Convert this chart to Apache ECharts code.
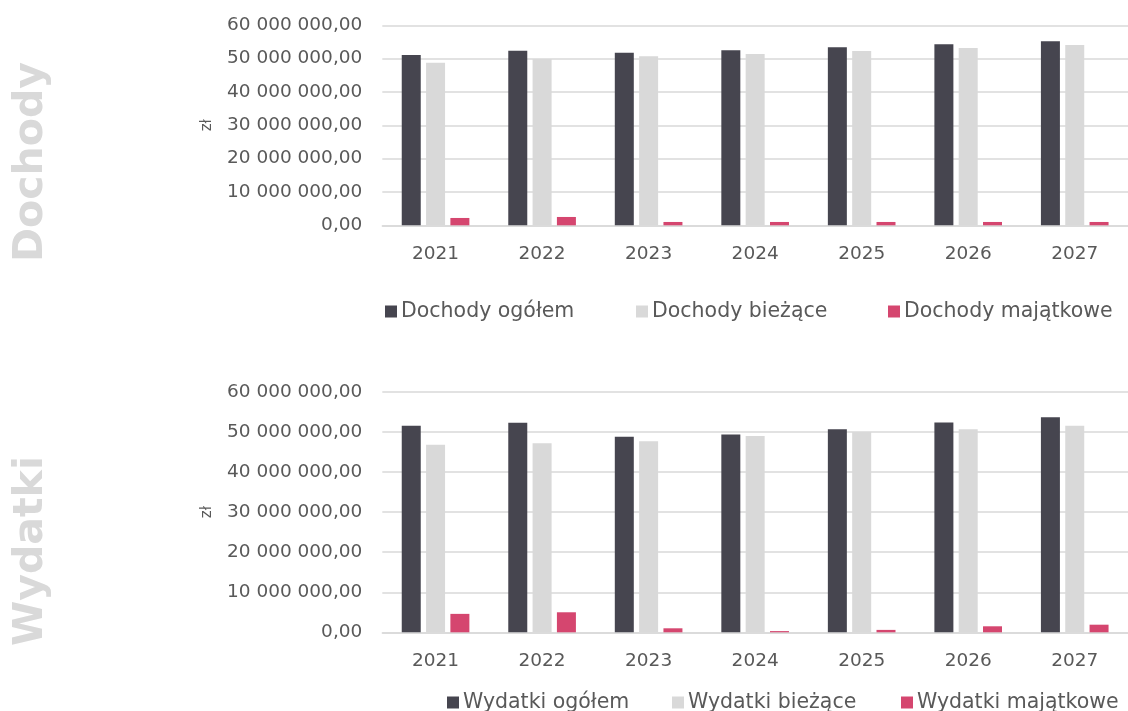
<!DOCTYPE html>
<html>
<head>
<meta charset="utf-8">
<script src="https://cdn.jsdelivr.net/npm/echarts@6/dist/echarts.min.js"></script>
<style>
html,body{margin:0;padding:0;background:#fff;}
#chart{width:1128px;height:711px;}
</style>
</head>
<body>
<div id="chart"></div>
<script>
const years = ['2021','2022','2023','2024','2025','2026','2027'];
const yTicks = [0, 10000000, 20000000, 30000000, 40000000, 50000000, 60000000];

const dochodyOgolem    = [51100000, 52400000, 51800000, 52500000, 53400000, 54300000, 55200000];
const dochodyBiezace   = [48800000, 49900000, 50700000, 51400000, 52300000, 53200000, 54100000];
const dochodyMajatkowe = [2200000, 2500000, 1000000, 1000000, 1000000, 1000000, 1000000];

const wydatkiOgolem    = [51600000, 52300000, 48800000, 49400000, 50700000, 52400000, 53700000];
const wydatkiBiezace   = [46800000, 47200000, 47700000, 49000000, 50000000, 50700000, 51600000];
const wydatkiMajatkowe = [4600000, 5000000, 1000000, 300000, 600000, 1500000, 1900000];

const seriesNames1 = ['Dochody ogółem', 'Dochody bieżące', 'Dochody majątkowe'];
const seriesNames2 = ['Wydatki ogółem', 'Wydatki bieżące', 'Wydatki majątkowe'];
const panelTitles = ['Dochody', 'Wydatki'];

const colors = ['#46454f', '#d9d9d9', '#d5466f'];
const FONT = 'DejaVu Sans';
const TXT = '#595959';

function fmt(v) {
  return String(Math.round(v)).replace(/\B(?=(\d{3})+(?!\d))/g, ' ') + ',00';
}

const chart = echarts.init(document.getElementById('chart'));

function xAxis(gridIndex) {
  return {
    type: 'category', gridIndex: gridIndex, data: years,
    axisTick: {show: false},
    axisLine: {lineStyle: {color: '#d9d9d9', width: 1.5}},
    axisLabel: {color: TXT, fontFamily: FONT, fontSize: 18.5, margin: 19}
  };
}
function yAxis(gridIndex) {
  return {
    type: 'value', gridIndex: gridIndex, min: yTicks[0], max: yTicks[yTicks.length-1],
    interval: yTicks[1] - yTicks[0],
    name: 'zł', nameLocation: 'middle', nameRotate: 90, nameGap: 168,
    nameTextStyle: {color: TXT, fontFamily: FONT, fontSize: 15},
    axisLine: {show: false}, axisTick: {show: false},
    splitLine: {lineStyle: {color: '#d9d9d9', width: 1.5}},
    axisLabel: {color: TXT, fontFamily: FONT, fontSize: 18.5, margin: 20, formatter: fmt}
  };
}
function bar(name, data, idx, color) {
  return {
    name: name, type: 'bar', xAxisIndex: idx, yAxisIndex: idx, data: data,
    barWidth: 19, barGap: '28%',
    itemStyle: {color: color}
  };
}
function legend(name, left, top) {
  return {
    data: [name], left: left, top: top, selectedMode: false,
    itemWidth: 12, itemHeight: 12, itemGap: 0,
    icon: 'rect',
    textStyle: {color: TXT, fontFamily: FONT, fontSize: 20.5, padding: [0,0,0,-1]}
  };
}

const option = {
  animation: false,
  color: colors,
  grid: [
    {left: 382.3, width: 750, top: 25.3, height: 200},
    {left: 382.3, width: 750, top: 392, height: 240.3}
  ],
  xAxis: [xAxis(0), xAxis(1)],
  yAxis: [yAxis(0), yAxis(1)],
  legend: [
    legend(seriesNames1[0], 380, 296),
    legend(seriesNames1[1], 631, 296),
    legend(seriesNames1[2], 883, 296),
    legend(seriesNames2[0], 442, 687),
    legend(seriesNames2[1], 667, 687),
    legend(seriesNames2[2], 896, 687)
  ],
  graphic: [
    {type: 'text', x: 31, y: 162, rotation: Math.PI/2,
     style: {text: panelTitles[0], fill: '#d9d9d9', font: 'bold 41px "DejaVu Sans"', textAlign: 'center', textVerticalAlign: 'middle'}},
    {type: 'text', x: 31, y: 551, rotation: Math.PI/2,
     style: {text: panelTitles[1], fill: '#d9d9d9', font: 'bold 41px "DejaVu Sans"', textAlign: 'center', textVerticalAlign: 'middle'}}
  ],
  series: [
    bar(seriesNames1[0], dochodyOgolem, 0, colors[0]),
    bar(seriesNames1[1], dochodyBiezace, 0, colors[1]),
    bar(seriesNames1[2], dochodyMajatkowe, 0, colors[2]),
    bar(seriesNames2[0], wydatkiOgolem, 1, colors[0]),
    bar(seriesNames2[1], wydatkiBiezace, 1, colors[1]),
    bar(seriesNames2[2], wydatkiMajatkowe, 1, colors[2])
  ]
};
chart.setOption(option);
</script>
</body>
</html>
